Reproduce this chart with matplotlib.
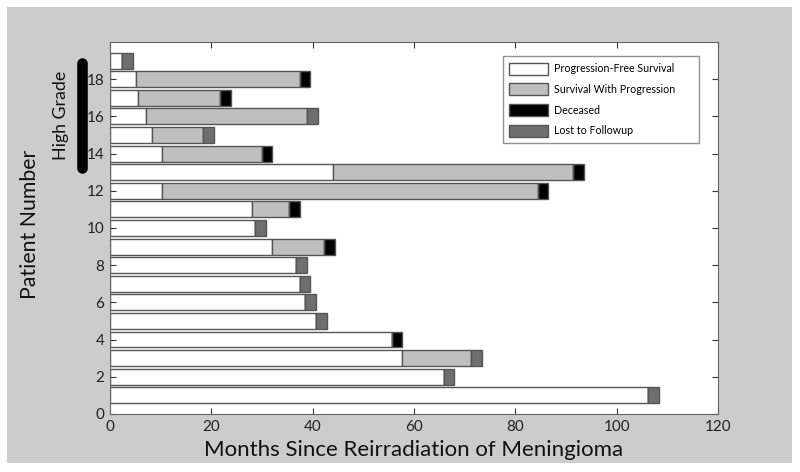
import numpy as np
import matplotlib.pyplot as plt
from matplotlib.patches import Rectangle

plt.rcParams['font.family'] = ['Lato', 'DejaVu Sans']

# patient numbers 1..19 (bottom to top)
patients = np.arange(1, 20)
# months of progression-free survival
pfs = [106.2, 66.0, 57.7, 55.6, 40.7, 38.5, 37.5, 36.7, 31.9, 28.7,
       28.1, 10.2, 44.1, 10.2, 8.2, 7.2, 5.6, 5.1, 2.4]
# months of survival with progression
swp = [0, 0, 13.6, 0, 0, 0, 0, 0, 10.4, 0,
       7.3, 74.2, 47.3, 19.8, 10.2, 31.7, 16.2, 32.4, 0]
# end-of-record markers (width in months)
deceased = [0, 0, 0, 2.0, 0, 0, 0, 0, 2.1, 0,
            2.1, 2.1, 2.1, 2.0, 0, 0, 2.1, 2.0, 0]
lost = [2.1, 1.9, 2.2, 0, 2.1, 2.1, 2.0, 2.1, 0, 2.1,
        0, 0, 0, 0, 2.1, 2.1, 0, 0, 2.1]

fig = plt.figure(figsize=(8, 4.72), dpi=100, facecolor='white')
fig.patches.append(Rectangle((0.009, 0.019), 0.981, 0.966, transform=fig.transFigure,
                             facecolor='#cccccc', edgecolor='none', zorder=-10))
ax = fig.add_axes([0.1375, 0.1229, 0.76, 0.7881])

edge = '#555555'
h = 0.85
pfs = np.array(pfs); swp = np.array(swp)
deceased = np.array(deceased); lost = np.array(lost)
ax.barh(patients, pfs, height=h, color='white', edgecolor=edge, linewidth=1,
        label='Progression-Free Survival')
ax.barh(patients, swp, left=pfs, height=h, color='#bfbfbf', edgecolor=edge, linewidth=1,
        label='Survival With Progression')
ax.barh(patients, deceased, left=pfs + swp, height=h, color='black', edgecolor=edge,
        linewidth=1, label='Deceased')
ax.barh(patients, lost, left=pfs + swp, height=h, color='#6e6e6e', edgecolor=edge,
        linewidth=1, label='Lost to Followup')

ax.set_xlim(0, 120)
ax.set_ylim(0, 20)
ax.set_xticks(np.arange(0, 121, 20))
ax.set_yticks(np.arange(0, 19, 2))
ax.tick_params(direction='in', top=True, right=True, length=4, labelsize=11,
               color='#333333', labelcolor='#222222', pad=4)
for s in ax.spines.values():
    s.set_color('#666666')

ax.set_xlabel('Months Since Reirradiation of Meningioma', fontsize=16, color='#111111',
              labelpad=5)
fig.text(30 / 800, 1 - 224 / 472, 'Patient Number', rotation=90, ha='center',
         va='center', fontsize=15.3, color='#111111')

# High grade bracket
ax.plot([-5.5, -5.5], [13.2, 18.85], color='black', linewidth=7.6, solid_capstyle='round',
        clip_on=False)
ax.text(-9.6, 16.08, 'High Grade', rotation=90, ha='center', va='center', fontsize=12.8,
        color='#111111')

leg = ax.legend(loc='upper right', bbox_to_anchor=(0.6464, 0.6, 0.3226, 0.362),
                mode='expand', borderaxespad=0,
                fontsize=7.7, frameon=True, fancybox=False, edgecolor='#777777',
                handlelength=3.65, handleheight=1.37, labelspacing=0.8, borderpad=0.6,
                handletextpad=0.55)
leg.get_frame().set_linewidth(1)

fig.savefig('out.png', dpi=100, facecolor=fig.get_facecolor())
